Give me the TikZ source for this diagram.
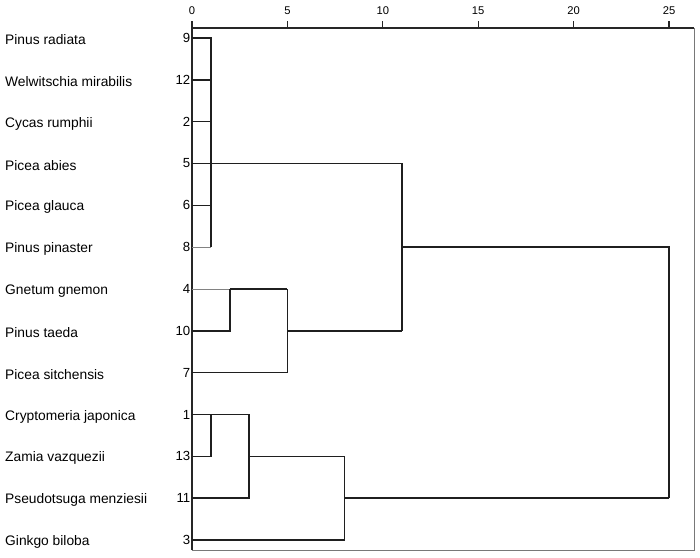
\documentclass[tikz,border=0pt]{standalone}
\usepackage{fontspec}
\setmainfont{Liberation Sans}
\usetikzlibrary{calc}
\definecolor{framegray}{RGB}{120,120,120}
\definecolor{thingray}{RGB}{130,130,130}
\tikzstyle{species}  = [anchor=west, inner sep=0pt, font=\fontsize{13.8}{15}\selectfont]
\tikzstyle{leafnum}  = [anchor=east, inner sep=0pt, font=\fontsize{13.2}{15}\selectfont]
\tikzstyle{ticklab}  = [anchor=center, inner sep=0pt, font=\fontsize{11.2}{13}\selectfont]
\tikzstyle{branch}   = [line width=1.4pt, black!88]
\tikzstyle{thin}     = [line width=0.8pt, thingray]

\begin{document}
\begin{tikzpicture}[x=1pt, y=-1pt]
  \useasboundingbox (0,0) rectangle (700,557);

  % Merge levels (x positions on the distance scale)
  \coordinate (h0)  at (192,28);
  \coordinate (h1)  at (211,28);
  \coordinate (h2)  at (230,28);
  \coordinate (h3)  at (249,28);
  \coordinate (h5)  at (287.4,28);
  \coordinate (h8)  at (344.6,28);
  \coordinate (h11) at (401.9,28);
  \coordinate (h25) at (669,28);
  \coordinate (hR)  at (694,28);

  % Leaves
  \foreach \name/\num [count=\i] in {Pinus radiata/9, Welwitschia mirabilis/12,
      Cycas rumphii/2, Picea abies/5, Picea glauca/6, Pinus pinaster/8,
      Gnetum gnemon/4, Pinus taeda/10, Picea sitchensis/7, Cryptomeria japonica/1,
      Zamia vazquezii/13, Pseudotsuga menziesii/11, Ginkgo biloba/3} {
    \node (sp\num) [species] at (5, {38+41.83*(\i-1)+2}) {\name};
    \node (n\num)  [leafnum] at (190.5, {38+41.83*(\i-1)}) {\num};
    \coordinate (c\num) at (192, {38+41.83*(\i-1)});
  }
  \coordinate (bot) at (192,550);

  % Frame and scale
  \draw [line width=0.9pt, framegray] (h25 -| hR) -- (bot -| hR) -- (bot);
  \draw [line width=1.2pt, black!85] (bot) -- (h0) -- (hR);
  \foreach \v in {0,5,...,25} {
    \coordinate (t\v) at ({192+19.08*\v},28);
    \draw [line width=1.2pt, black!85] (t\v) -- ++(0,-7);
    \node (lab\v) [ticklab] at ({192+19.08*\v},10.5) {\v};
  }

  % Cluster 9-12-2-5-6-8
  \draw [branch] (c9) -| (c8 -| h1);
  \draw [branch] (c12) -- (c12 -| h1);
  \draw [branch] (c2) -- (c2 -| h1);
  \draw [branch] (c6) -- (c6 -| h1);
  \draw [thin]   (c8) -- (c8 -| h1);
  \draw [branch] (c5) -- (c5 -| h11);

  % Cluster 4-10-7
  \draw [thin]   (c4) -- (c4 -| h2);
  \draw [branch] (c4 -| h2) -- (c4 -| h5);
  \draw [branch] (c10) -| (c4 -| h2);
  \draw [branch] (c7) -| (c4 -| h5);
  \draw [branch] (c10 -| h5) -- (c10 -| h11);
  \draw [branch] (c5 -| h11) -- (c10 -| h11);

  % Cluster 1-13-11-3
  \draw [branch] (c1) -- (c1 -| h3);
  \draw [branch] (c13) -| (c1 -| h1);
  \draw [branch] (c11) -| (c1 -| h3);
  \draw [branch] (c13 -| h3) -- (c13 -| h8);
  \draw [branch] (c3) -| (c13 -| h8);

  % Top join
  \draw [branch] (c8 -| h11) -- (c8 -| h25) -- (c11 -| h25);
  \draw [branch] (c11 -| h8) -- (c11 -| h25);
\end{tikzpicture}
\end{document}
